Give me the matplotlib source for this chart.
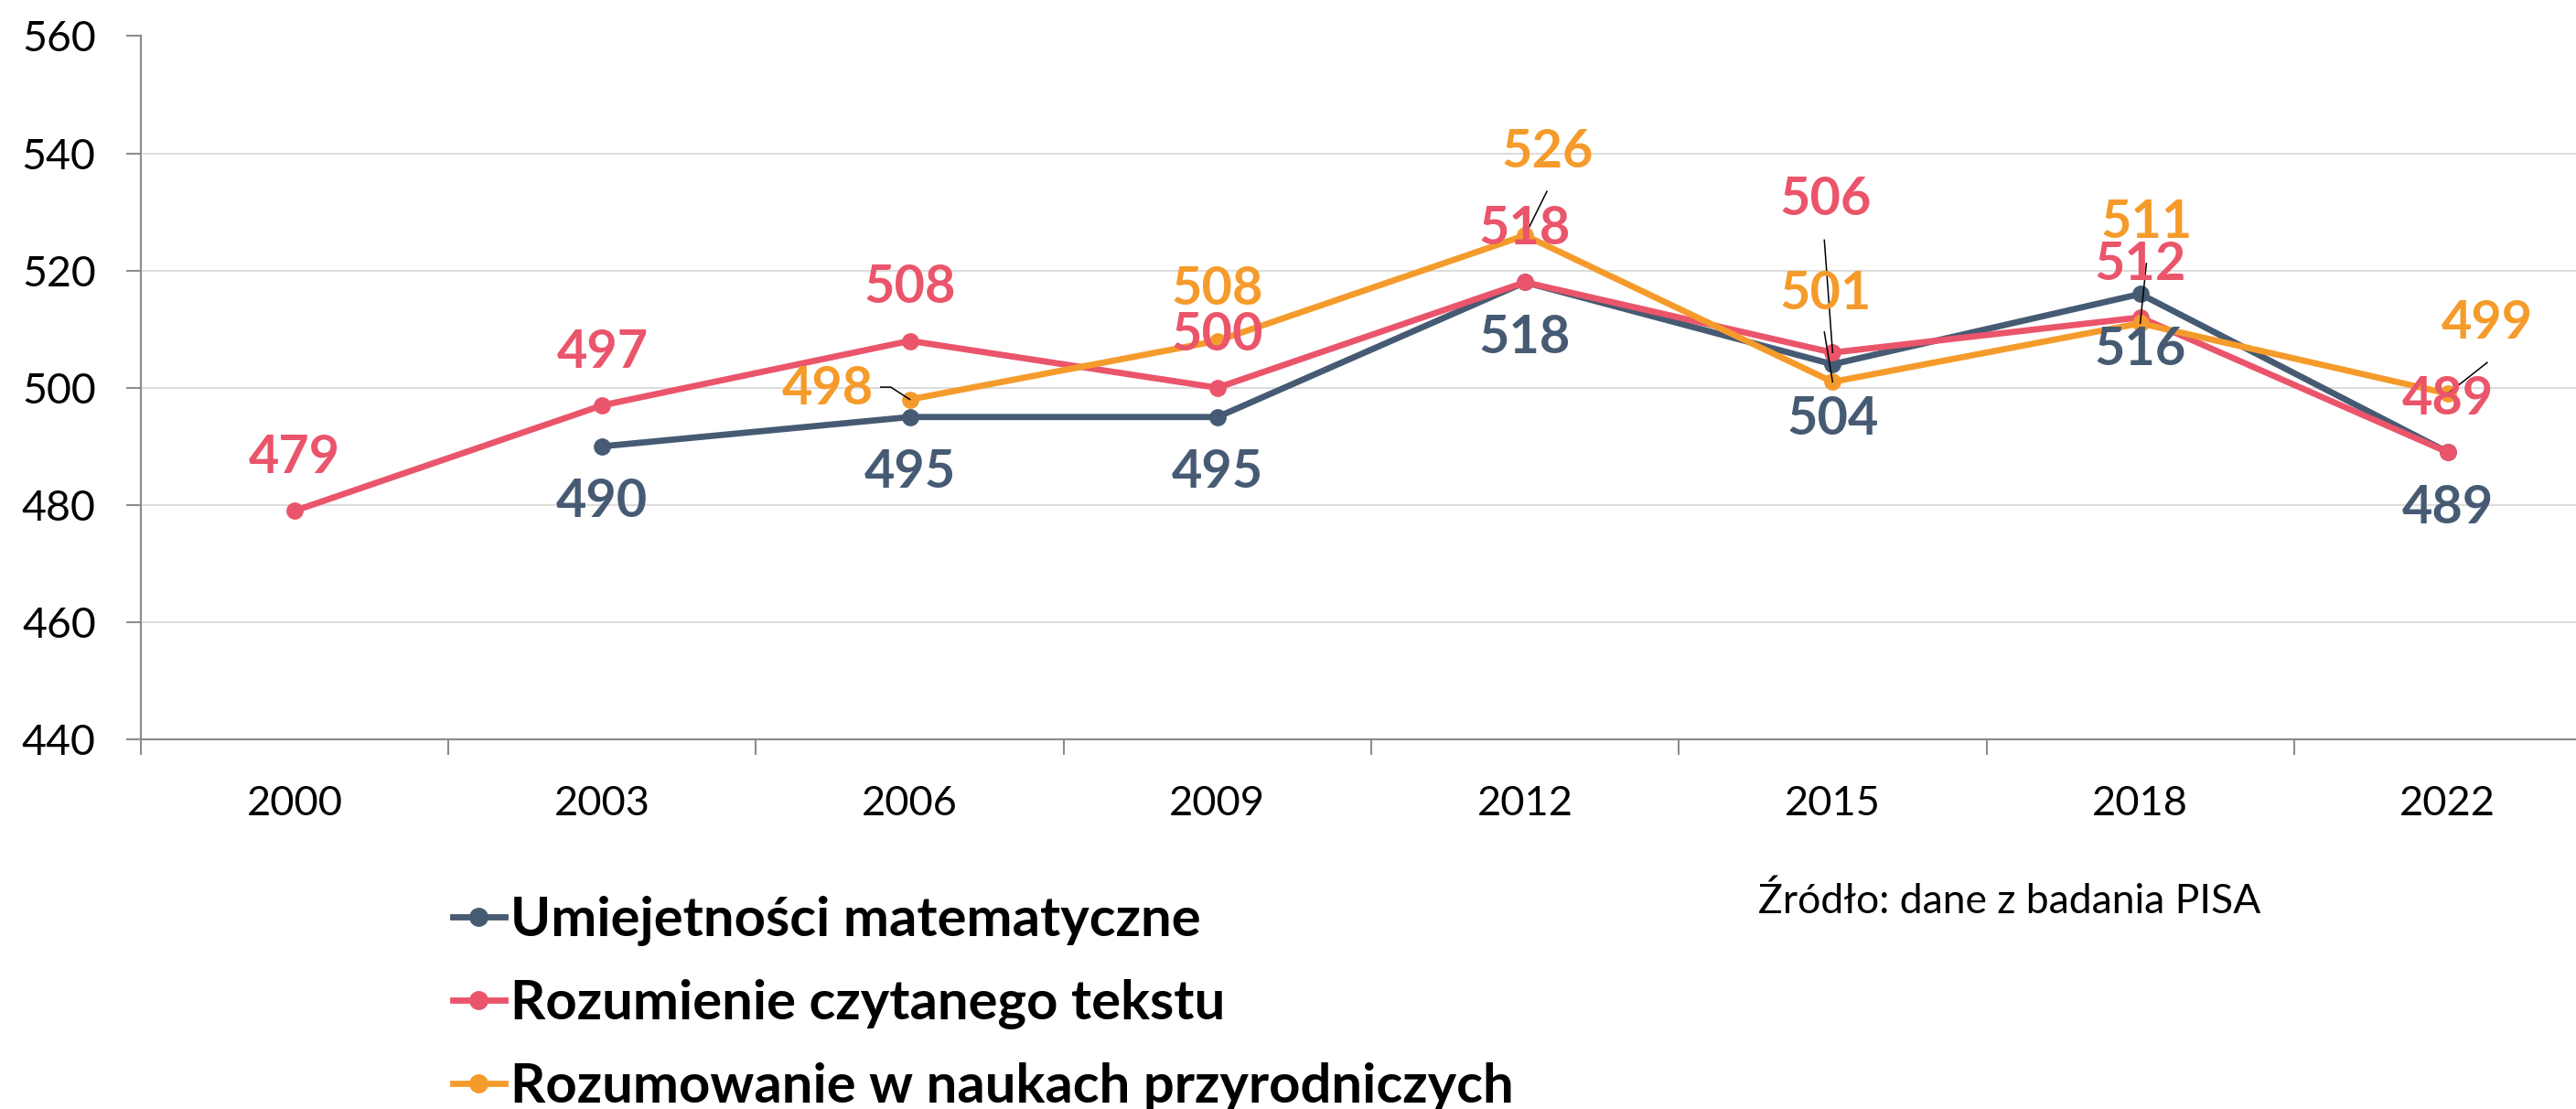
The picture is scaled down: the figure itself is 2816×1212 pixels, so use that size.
import numpy as np
import matplotlib
matplotlib.use("Agg")
import matplotlib.pyplot as plt
from matplotlib.lines import Line2D

# ---------------- data ----------------
years = ["2000", "2003", "2006", "2009", "2012", "2015", "2018", "2022"]
math_scores = [np.nan, 490, 495, 495, 518, 504, 516, 489]
reading_scores = [479, 497, 508, 500, 518, 506, 512, 489]
science_scores = [np.nan, np.nan, 498, 508, 526, 501, 511, 499]
series_names = ["Umiejetności matematyczne",
                "Rozumienie czytanego tekstu",
                "Rozumowanie w naukach przyrodniczych"]
source_text = "Źródło: dane z badania PISA"

# ---------------- style / layout ----------------
colors = ["#465B73", "#EA556B", "#F59B2B"]
FONT = ["Lato", "DejaVu Sans"]
W, H, DPI = 2816, 1212, 100

# label offsets (dx in categories, dy in score units) relative to each point
label_offsets = [
    {i: (0.0, -9.5) for i in range(8)},
    {**{i: (0.0, 9.0) for i in range(8)}, 5: (-0.022, 26.0)},
    {2: (-0.268, 1.8), 3: (0.0, 8.8), 4: (0.074, 14.1),
     5: (-0.024, 15.0), 6: (0.02, 17.2), 7: (0.127, 11.9)},
]
# leader lines: (series index, point index, polyline offsets)
leaders = [
    (2, 2, [(-0.095, 2.1), (-0.062, 2.1), (0.0, 0.0)]),
    (2, 4, [(0.071, 7.5), (0.0, 0.0)]),
    (1, 5, [(-0.027, 19.2), (0.0, 0.0)]),
    (2, 5, [(-0.027, 8.5), (0.0, 0.0)]),
    (2, 6, [(0.02, 10.2), (0.0, 0.0)]),
    (2, 7, [(0.128, 5.3), (0.0, 0.0)]),
]

fig = plt.figure(figsize=(W / DPI, H / DPI), dpi=DPI)
ax = fig.add_axes([154 / W, 1 - 808 / H, (2844 - 154) / W, (808 - 39.5) / H])

x = np.arange(len(years))
all_series = [math_scores, reading_scores, science_scores]
for k, (vals, c, name) in enumerate(zip(all_series, colors, series_names)):
    ax.plot(x, vals, color=c, lw=4.9, marker="o", ms=12.5, label=name,
            zorder=3 + k, solid_joinstyle="miter")

for s, i, pts in leaders:
    v = all_series[s][i]
    ax.plot([i + dx for dx, dy in pts], [v + dy for dx, dy in pts],
            color="black", lw=1.1, zorder=7)

for k, (vals, c) in enumerate(zip(all_series, colors)):
    for i, v in enumerate(vals):
        if np.isnan(v):
            continue
        dx, dy = label_offsets[k][i]
        ax.text(i + dx, v + dy, f"{int(v)}", color=c, fontsize=41.5,
                fontweight="bold", family=FONT, ha="center", va="center",
                zorder=8)

ax.set_xlim(-0.5, 7.5)
ax.set_ylim(440, 560)
ax.set_yticks(np.arange(440, 561, 20))
ax.set_xticks(x)
ax.set_xticklabels(years)
ax.set_xticks(np.arange(-0.5, 8, 1), minor=True)

for sp in ["top", "right"]:
    ax.spines[sp].set_visible(False)
for sp in ["left", "bottom"]:
    ax.spines[sp].set_color("#8C8C8C")
    ax.spines[sp].set_linewidth(1.6)

ax.grid(axis="y", color="#DCDCDC", lw=1.4, zorder=0)
ax.set_axisbelow(True)
ax.tick_params(axis="y", direction="out", length=11.5, width=1.5,
               color="#8C8C8C", pad=24, labelsize=33.5, labelcolor="black")
ax.tick_params(axis="x", which="major", length=0, pad=36, labelsize=32.5,
               labelcolor="black")
ax.tick_params(axis="x", which="minor", direction="out", length=12.2,
               width=1.5, color="#8C8C8C")
for lab in ax.get_xticklabels() + ax.get_yticklabels():
    lab.set_family(FONT)

handles = [Line2D([], [], color=c, lw=4.9, marker="o", ms=14) for c in colors]
leg = fig.legend(handles, series_names, loc="upper left",
                 bbox_to_anchor=(495 / W, 1 - 979 / H), frameon=False,
                 borderpad=0, borderaxespad=0, handlelength=0.95,
                 handletextpad=0.1, labelspacing=0.6,
                 prop={"family": FONT, "weight": "bold", "size": 43})

fig.text(1922 / W, 1 - 998 / H, source_text, fontsize=32, family=FONT,
         ha="left", va="baseline", color="black")

fig.savefig("out.png", dpi=DPI)
